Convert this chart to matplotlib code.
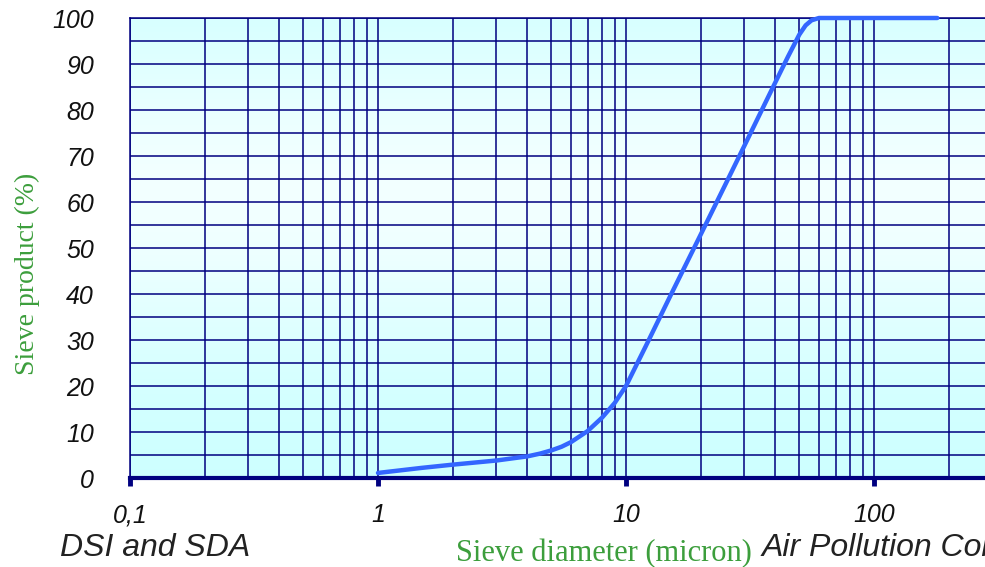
import numpy as np
import matplotlib
matplotlib.use("Agg")
import matplotlib.pyplot as plt
from matplotlib.ticker import LogLocator, FixedLocator, NullFormatter, MultipleLocator

# sieve curve
diameter = [1, 1.5, 2, 3, 4, 4.5, 5, 5.5, 6, 7, 8, 9, 10, 11, 12, 15, 20, 25, 30, 35, 40,
            45, 50, 53, 56, 60, 100, 180]
passing = [1.1, 2.2, 2.9, 3.8, 4.7, 5.3, 6.0, 6.8, 7.8, 10.2, 13.1, 16.3, 20.0, 24.5, 28.6,
           39.3, 52.9, 63.5, 72.2, 79.6, 86.0, 91.6, 96.4, 98.4, 99.5, 100, 100, 100]

xtick_vals = [0.1, 1, 10, 100]
xtick_labels = ["0,1", "1", "10", "100"]
ytick_vals = list(range(0, 101, 10))

navy = "#000080"
green = "#3C9E3C"

W, H = 985, 567
fig = plt.figure(figsize=(W / 100, H / 100), dpi=100)

left, bottom, top = 130, 478, 18
right = W
pos = [left / W, (H - bottom) / H, (right - left) / W, (bottom - top) / H]

# background gradient (cyan at top and bottom, paler in the middle)
bg = fig.add_axes(pos, zorder=0)
t = np.linspace(0, 1, 256)
light = np.exp(-((t - 0.62) / 0.35) ** 2)
c0 = np.array([0.80, 1.0, 1.0])
c1 = np.array([0.95, 1.0, 1.0])
grad = c0[None, :] + (c1 - c0)[None, :] * light[:, None]
bg.imshow(grad[:, None, :], aspect="auto", extent=[0, 1, 0, 1], origin="lower")
bg.set_axis_off()

ax = fig.add_axes(pos, zorder=1)
ax.set_facecolor("none")
ax.set_xscale("log")
xmax = 10 ** ((right - 378) / 248)  # right edge of the visible area
ax.set_xlim(0.1, xmax)
ax.set_ylim(0, 100)

ax.xaxis.set_major_locator(FixedLocator(xtick_vals))
ax.xaxis.set_minor_locator(LogLocator(base=10, subs=np.arange(2, 10), numticks=20))
ax.xaxis.set_minor_formatter(NullFormatter())
ax.set_xticks(xtick_vals)
ax.set_xticklabels(xtick_labels)
ax.set_yticks(ytick_vals)
ax.yaxis.set_minor_locator(MultipleLocator(5))

ax.grid(True, which="both", color=navy, linewidth=1.1)
ax.set_axisbelow(True)

ax.plot(diameter, passing, color="#3366FF", linewidth=3.2, solid_capstyle="round",
        solid_joinstyle="round", zorder=3, clip_on=False)

for s in ["left", "top"]:
    ax.spines[s].set_color(navy)
    ax.spines[s].set_linewidth(1.1)
ax.spines["right"].set_visible(False)
ax.spines["bottom"].set_color(navy)
ax.spines["bottom"].set_linewidth(3)

ax.tick_params(axis="x", which="major", direction="out", length=6, width=3.5,
               color=navy, pad=12)
ax.tick_params(axis="x", which="minor", length=0)
ax.tick_params(axis="y", which="both", length=0, pad=26)
for lab in ax.get_xticklabels() + ax.get_yticklabels():
    lab.set_fontfamily("Liberation Sans")
    lab.set_fontstyle("italic")
    lab.set_fontsize(18)
    lab.set_color("#111111")

fig.text(27 / W, 1 - 274 / H, "Sieve product (%)", rotation=90, ha="center", va="center",
         family="Liberation Serif", fontsize=20, color=green)
fig.text(604 / W, 1 - 561 / H, "Sieve diameter (micron)", ha="center", va="baseline",
         family="Liberation Serif", fontsize=22, color=green)
fig.text(60 / W, 1 - 556 / H, "DSI and SDA", ha="left", va="baseline",
         family="Liberation Sans", style="italic", fontsize=23, color="#222222")
fig.text(762 / W, 1 - 556 / H, "Air Pollution Control", ha="left", va="baseline",
         family="Liberation Sans", style="italic", fontsize=23, color="#222222")

fig.savefig("out.png", dpi=100)
